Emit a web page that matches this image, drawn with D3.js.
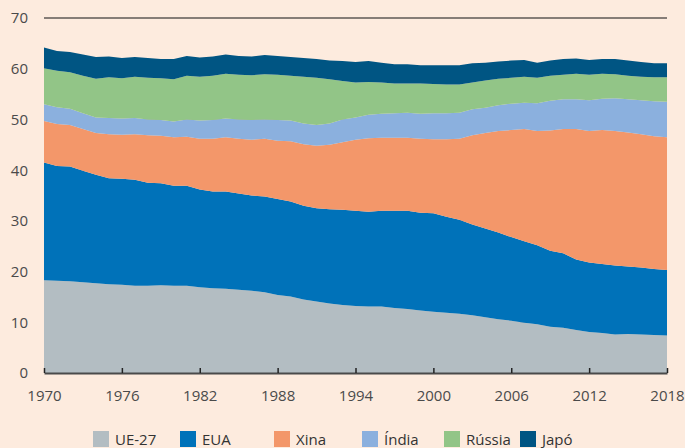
<!DOCTYPE html>
<html>
<head>
<meta charset="utf-8">
<script src="https://cdn.jsdelivr.net/npm/d3@7"></script>
<style>
  html, body { margin: 0; padding: 0; background: #fdebde; }
  svg { display: block; font-family: "Open Sans", sans-serif; }
</style>
</head>
<body>
<script>
var width = 685,
    height = 448,
    margin = {top: 18, right: 18, bottom: 75, left: 44};

// years 1970..2018
var years = d3.range(1970, 2019);

var seriesNames = ["UE-27", "EUA", "Xina", "Índia", "Rússia", "Japó"];
var seriesColors = ["#b3bdc2", "#0072b9", "#f3976a", "#8bb0de", "#92c587", "#005583"];

var ue27 = [18.3, 18.2, 18.1, 17.9, 17.7, 17.5, 17.4, 17.2, 17.2, 17.3, 17.2, 17.2, 16.9, 16.7, 16.6, 16.4, 16.2, 15.9, 15.4, 15.1,
            14.5, 14.1, 13.7, 13.4, 13.2, 13.1, 13.1, 12.8, 12.6, 12.3, 12.1, 11.9, 11.7, 11.4, 11.0, 10.6, 10.3, 9.9, 9.6, 9.1,
            8.9, 8.5, 8.1, 7.9, 7.6, 7.7, 7.6, 7.5, 7.4];
var eua = [23.2, 22.6, 22.6, 22.0, 21.4, 20.9, 20.9, 20.9, 20.3, 20.1, 19.7, 19.7, 19.3, 19.1, 19.2, 19.0, 18.8, 18.9, 18.9, 18.7,
           18.5, 18.4, 18.6, 18.8, 18.8, 18.7, 18.9, 19.2, 19.4, 19.3, 19.4, 18.9, 18.5, 17.9, 17.5, 17.1, 16.5, 16.1, 15.6, 15.0,
           14.7, 13.9, 13.7, 13.6, 13.6, 13.3, 13.2, 13.0, 12.9];
var xina = [8.2, 8.3, 8.2, 8.2, 8.2, 8.7, 8.7, 9.0, 9.4, 9.4, 9.6, 9.7, 10.0, 10.4, 10.7, 10.8, 11.0, 11.4, 11.5, 11.9,
            12.1, 12.3, 12.7, 13.3, 14.0, 14.5, 14.4, 14.4, 14.4, 14.6, 14.6, 15.3, 16.0, 17.6, 18.8, 20.0, 21.1, 22.1, 22.5, 23.7,
            24.5, 25.7, 25.9, 26.4, 26.5, 26.4, 26.3, 26.2, 26.2];
var india = [3.3, 3.3, 3.2, 3.1, 3.1, 3.2, 3.2, 3.2, 3.1, 3.1, 3.1, 3.4, 3.6, 3.7, 3.7, 3.8, 3.9, 3.8, 4.1, 4.1,
             4.1, 4.1, 4.2, 4.5, 4.4, 4.6, 4.7, 4.8, 4.9, 4.9, 5.1, 5.1, 5.1, 5.1, 5.0, 5.1, 5.2, 5.2, 5.5, 5.9,
             5.9, 5.9, 6.1, 6.2, 6.5, 6.6, 6.7, 6.9, 7.0];
var russia = [7.1, 7.2, 7.2, 7.4, 7.6, 8.0, 7.9, 8.1, 8.2, 8.2, 8.3, 8.6, 8.6, 8.7, 8.8, 8.8, 8.8, 8.9, 8.9, 8.8,
              9.2, 9.3, 8.7, 7.6, 6.9, 6.5, 6.2, 5.9, 5.8, 6.0, 5.8, 5.7, 5.6, 5.3, 5.4, 5.2, 5.1, 5.1, 5.0, 4.9,
              4.8, 5.0, 5.0, 4.9, 4.7, 4.6, 4.6, 4.7, 4.8];
var japo = [4.1, 3.9, 4.0, 4.2, 4.3, 4.1, 4.0, 3.9, 3.9, 3.8, 4.0, 3.9, 3.8, 3.8, 3.8, 3.7, 3.7, 3.8, 3.7, 3.7,
            3.7, 3.7, 3.7, 3.9, 4.0, 4.1, 3.9, 3.8, 3.8, 3.6, 3.7, 3.8, 3.8, 3.8, 3.5, 3.4, 3.4, 3.3, 3.0, 3.0,
            3.1, 3.0, 2.9, 2.9, 3.0, 3.0, 2.9, 2.8, 2.8];

var yTicks = [0, 10, 20, 30, 40, 50, 60, 70];
var xTicks = [1970, 1976, 1982, 1988, 1994, 2000, 2006, 2012, 2018];

var seriesValues = [ue27, eua, xina, india, russia, japo];

// table for d3.stack
var table = years.map(function(y, i) {
    var row = {year: y};
    seriesNames.forEach(function(n, k) { row[n] = seriesValues[k][i]; });
    return row;
});

var x = d3.scaleLinear()
    .domain([1970, 2018])
    .range([margin.left, width - margin.right]);

var y = d3.scaleLinear()
    .domain([0, 70])
    .range([height - margin.bottom, margin.top]);

var svg = d3.select("body").append("svg")
    .attr("width", width)
    .attr("height", height);

svg.append("rect")
    .attr("width", width)
    .attr("height", height)
    .attr("fill", "#fdebde");

// gridlines (mostly hidden under the areas)
svg.append("g")
    .selectAll("line")
    .data(yTicks.slice(1, -1))
    .enter().append("line")
    .attr("x1", x(1970))
    .attr("x2", x(2018))
    .attr("y1", function(d) { return y(d); })
    .attr("y2", function(d) { return y(d); })
    .attr("stroke", "#9a9a9a")
    .attr("stroke-width", 0.8);

var stack = d3.stack().keys(seriesNames);
var layers = stack(table);

var area = d3.area()
    .x(function(d) { return x(d.data.year); })
    .y0(function(d) { return y(d[0]); })
    .y1(function(d) { return y(d[1]); });

svg.append("g")
    .selectAll("path")
    .data(layers)
    .enter().append("path")
    .attr("d", area)
    .attr("fill", function(d, i) { return seriesColors[i]; });

// top line at 70
svg.append("line")
    .attr("x1", x(1970))
    .attr("x2", x(2018))
    .attr("y1", y(70))
    .attr("y2", y(70))
    .attr("stroke", "#111")
    .attr("stroke-width", 1.2);

// y labels
svg.append("g")
    .selectAll("text")
    .data(yTicks)
    .enter().append("text")
    .attr("x", 28)
    .attr("y", function(d) { return y(d); })
    .attr("dy", "0.36em")
    .attr("text-anchor", "end")
    .attr("font-size", 15)
    .attr("fill", "#4a4a4a")
    .text(function(d) { return d; });

// x axis
var xAxis = d3.axisBottom(x)
    .tickValues(xTicks)
    .tickFormat(d3.format("d"))
    .tickSizeInner(-5)
    .tickSizeOuter(0)
    .tickPadding(17);

var gx = svg.append("g")
    .attr("transform", "translate(0," + y(0) + ")")
    .call(xAxis);

gx.select(".domain").attr("stroke", "#4a4a4a").attr("stroke-width", 2);
gx.selectAll(".tick line").attr("stroke", "#222").attr("stroke-width", 1.5);
gx.selectAll(".tick text")
    .attr("font-family", "Open Sans, sans-serif")
    .attr("font-size", 15)
    .attr("fill", "#4a4a4a");

// legend
var legendX = [93, 180, 274, 362, 444, 520];
var legend = svg.append("g")
    .selectAll("g")
    .data(seriesNames)
    .enter().append("g")
    .attr("transform", function(d, i) { return "translate(" + legendX[i] + ",431)"; });

legend.append("rect")
    .attr("width", 16)
    .attr("height", 16)
    .attr("fill", function(d, i) { return seriesColors[i]; });

legend.append("text")
    .attr("x", 22)
    .attr("y", 14)
    .attr("font-size", 15)
    .attr("fill", "#333")
    .text(function(d) { return d; });
</script>
</body>
</html>
